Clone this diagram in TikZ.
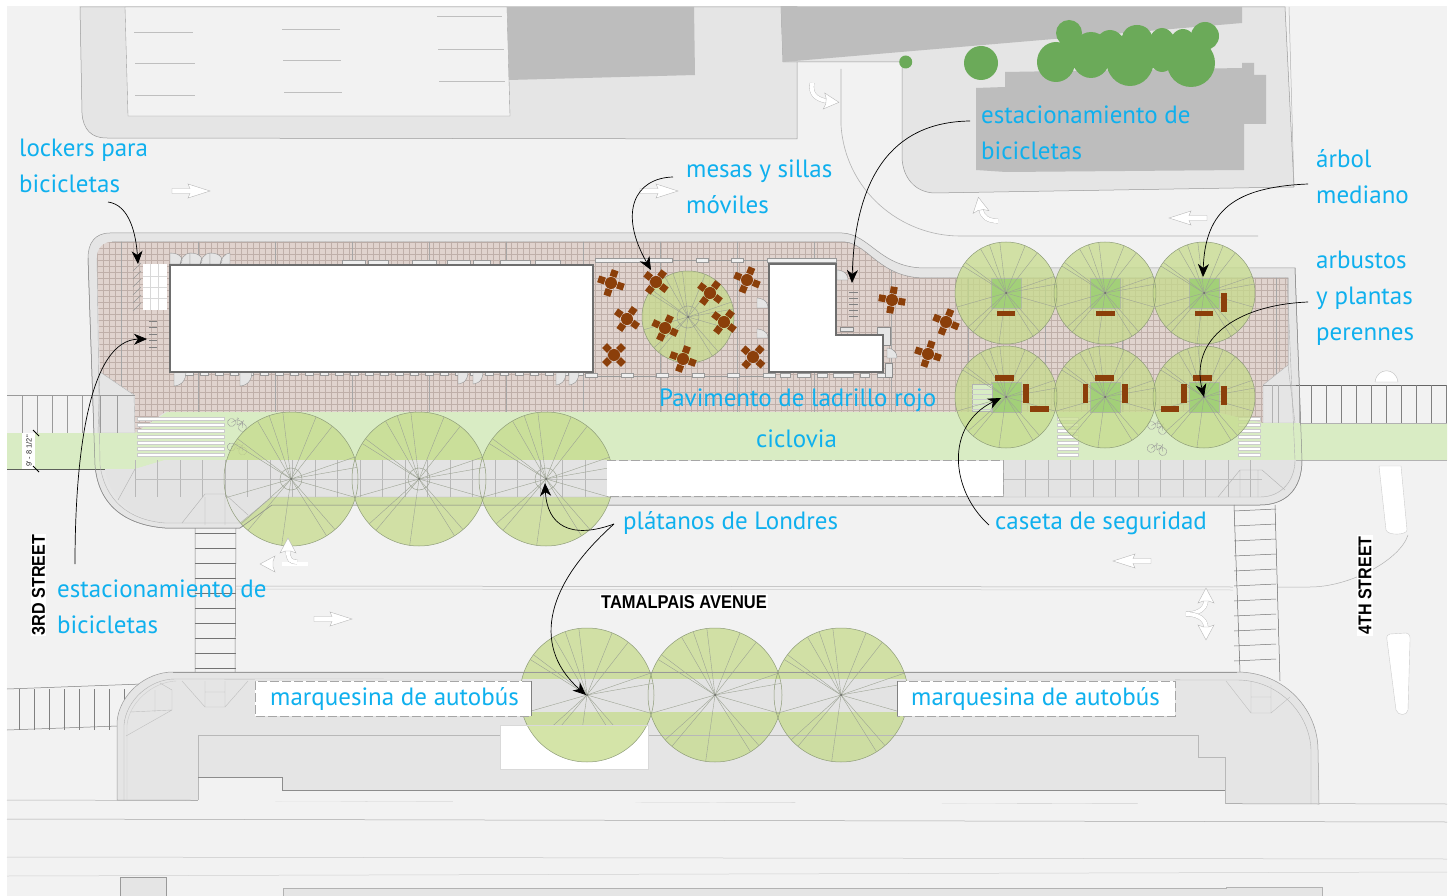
\documentclass[tikz,border=0pt]{standalone}
\usepackage{fontspec}
\setmainfont{PT Sans}
\newfontfamily\planfont{Liberation Sans}
\usetikzlibrary{arrows.meta,calc}
\definecolor{fieldc}{HTML}{F2F2F2}
\definecolor{walkc}{HTML}{E5E5E5}
\definecolor{darkg}{HTML}{BDBDBD}
\definecolor{linec}{HTML}{9A9A9A}
\definecolor{brickc}{HTML}{E0D3CE}
\definecolor{brickl}{HTML}{BFAFA9}
\definecolor{bandc}{HTML}{D9ECC4}
\definecolor{treec}{HTML}{C6DB8C}
\definecolor{treeedge}{HTML}{8E9C78}
\definecolor{spokec}{HTML}{9DA394}
\definecolor{padc}{HTML}{A2D078}
\definecolor{benchc}{HTML}{8B3F0A}
\definecolor{topgreen}{HTML}{6BAA59}
\definecolor{labelc}{HTML}{0FB0EE}
\definecolor{wallc}{HTML}{6E6E6E}
\tikzset{
  plan/.style={draw=linec,line width=.5pt},
  thinplan/.style={draw=linec,line width=.35pt},
  lbl/.style={text=labelc,font=\fontsize{25}{25}\selectfont,anchor=base west,inner sep=0pt},
  streetlbl/.style={text=black,font=\planfont\bfseries\fontsize{18.5}{18.5}\selectfont,fill=white,inner sep=1pt},
  callout/.style={draw=black,line width=.7pt,-{Stealth[length=13pt,width=11pt,inset=4pt]}},
  dashedge/.style={draw=black!35,line width=.8pt,dash pattern=on 9pt off 3pt},
  markarrow/.style={fill=white,draw=black!30,line width=.35pt},
  markpath/.style={draw=black!30,double=white,double distance=4pt,line width=.35pt},
}
\newcommand{\mytreefill}[3]{\fill[treec,fill opacity=.75] (#1,#2) circle (#3);}
\newcommand{\mytreelines}[3]{%
  \draw[treeedge,line width=.5pt] (#1,#2) circle (#3);
  \foreach \ang in {19,10,-16,-49,-58,-98,-130,-138,-164,148,143,120,109,97,68,52}
    \draw[spokec,line width=.4pt] (#1,#2) -- ++(-\ang:#3);
  \fill[black!60] (#1,#2) circle (1);}
\newcommand{\myring}[2]{\draw[spokec,line width=.5pt] (#1,#2) circle (11);}
\newcommand{\mytable}[3]{\begin{scope}[shift={(#1,#2)},rotate=#3]
  \foreach \rr in {0,90,180,270}{\fill[benchc,rotate=\rr] (6.5,-3.5) rectangle (13.4,3.5);}
  \fill[benchc] (0,0) circle (6);
  \end{scope}}
\newcommand{\mybench}[4]{\fill[benchc] (#1,#2) rectangle (#3,#4);}
\newcommand{\mypad}[2]{\fill[padc,draw=treeedge!70,line width=.25pt] (#1-15,#2-14.5) rectangle (#1+15,#2+15);}
\newcommand{\myboxb}[3]{\fill[walkc!60!white,draw=black!40,line width=.35pt] (#1,#3) rectangle (#2,#3+4);}
\newcommand{\mydoor}[4]{\fill[walkc,draw=black!45,line width=.35pt] (#1,#2) -- (#3,#2) .. controls (#3,#4) and (#1,#4) .. (#1,#4) -- cycle;}
\newcommand{\myarrow}[3]{\begin{scope}[shift={(#1,#2)},rotate=#3]
  \path[markarrow] (0,-2.5)--(18,-2.5)--(16,-7)--(38,0)--(16,7)--(18,2.5)--(0,2.5)--cycle;
  \end{scope}}
\newcommand{\myhead}[3]{\begin{scope}[shift={(#1,#2)},rotate=#3]
  \path[markarrow] (0,-8)--(15,0)--(0,8)--(2,2.8)--(2,-2.8)--cycle;
  \end{scope}}
\newcommand{\mybike}[3]{\begin{scope}[shift={(#1,#2)},rotate=#3]
  \draw[black!40,line width=.4pt] (-6,0) circle (4) (6,0) circle (4) (-6,0)--(-2,-5)--(4,-5)--(6,0) (-2,-5)--(0,0)--(4,-5) (-3,-6.5)--(-1,-6.5) (4,-5)--(4,-7);
  \end{scope}}
\begin{document}
\begin{tikzpicture}[x=1pt,y=-1pt]
\useasboundingbox (0,0) rectangle (1452,896);
\fill[white] (0,0) rectangle (1452,896);
\fill[fieldc] (7,6) rectangle (1447,896);

% top left lot
\path[fill=walkc,plan] (80,7) -- (82,113) .. controls (83,130) and (92,138) .. (106,138) -- (797,139) -- (797,7) -- cycle;
\path[fill=fieldc,thinplan] (125,7) -- (128,116) -- (510,116) -- (507,7) -- cycle;
\fill[darkg] (507,7) -- (694,7) -- (695,75) -- (509,80) -- cycle;
\foreach \pa/\pb/\pc in {134/193/32,135/195/63,135/195/95,282/340/29,283/341/60,284/342/92,437/502/16,438/504/49,439/505/81}
  \draw[black!25,line width=.6pt] (\pa,\pc) -- (\pb,\pc);
% top right lot
\path[fill=walkc,plan] (902,62) -- (902,158) .. controls (903,178) and (915,192) .. (934,193) -- (1294,187) -- (1285,7) -- (781,7) -- (783,62) -- cycle;
\fill[darkg] (781,7) -- (1242,7) -- (1242,23) -- (783,62) -- cycle;
\fill[darkg] (976,88) -- (1005,87) -- (1005,72) -- (1242,68) -- (1242,63) -- (1254,63) -- (1254,75) -- (1266,75) -- (1266,124) -- (1244,124) -- (1244,170) -- (1006,172) -- (976,170) -- cycle;
\draw[black!30,line width=.5pt] (1289,7) -- (1294,187);
% curved road line
\draw[black!30,line width=.6pt] (841,69) -- (841,125) .. controls (845,190) and (900,236) .. (960,236) -- (1258,236);
% top trees
\fill[topgreen] (905.7,62) ellipse (6.5 and 6.5);
\fill[topgreen] (981,63) ellipse (17 and 17);
\fill[topgreen] (1056,62) ellipse (19 and 20);
\fill[topgreen] (1069,33) ellipse (13 and 13);
\fill[topgreen] (1091,55) ellipse (20 and 23);
\fill[topgreen] (1110,47) ellipse (15 and 17);
\fill[topgreen] (1130,60) ellipse (24 and 26);
\fill[topgreen] (1137,38) ellipse (15 and 13);
\fill[topgreen] (1162,50) ellipse (15 and 22);
\fill[topgreen] (1183,50) ellipse (15 and 21);
\fill[topgreen] (1191,63) ellipse (24 and 24);
\fill[topgreen] (1205,36) ellipse (14 and 14);
\fill[topgreen] (1060,40) rectangle (1205,68);

% plaza curb
\path[fill=walkc,plan] (110,233) -- (842,233) .. controls (870,234) and (880,268) .. (925,268) -- (1295,268) -- (1302,460) .. controls (1302,490) and (1285,505) .. (1260,505) -- (272,505) -- (240,528) -- (165,528) .. controls (125,525) and (98,505) .. (95,465) -- (88,258) .. controls (88,243) and (95,233) .. (110,233) -- cycle;

% brick
\begin{scope}
\clip (112,242) -- (845,242) .. controls (868,244) and (880,278) .. (925,278) -- (1288,278) -- (1288,365) -- (1263,385) -- (1263,423) -- (1215,412) -- (165,412) -- (135,433) -- (135,395) -- (100,372) -- (97,258) .. controls (97,248) and (103,242) .. (112,242) -- cycle;
\fill[brickc] (80,230) rectangle (1300,440);
\foreach \gx in {91,97,...,1300} \draw[brickl,line width=.3pt] (\gx,230) -- (\gx,440);
\foreach \gy in {236,242,...,440} \draw[brickl,line width=.3pt] (80,\gy) -- (1300,\gy);
\foreach \gx in {121,198,...,1300} \draw[black!35,line width=.3pt] (\gx,230) -- (\gx,440);
\end{scope}
\draw[black!40,line width=.5pt] (112,242) -- (845,242) .. controls (868,244) and (880,278) .. (925,278) -- (1288,278) -- (1288,365);

% corner wedges and side crossings
\fill[walkc,draw=black!30,line width=.4pt] (100,372) -- (134,395) -- (135,433) -- (98,433) -- cycle;
\fill[walkc,draw=black!30,line width=.4pt] (1288,365) -- (1263,385) -- (1263,423) -- (1295,423) -- cycle;
\draw[linec,line width=.5pt] (7,395) -- (135,395);
\foreach \gx in {22,37,52,67,82,100,117} \draw[linec,line width=.4pt] (\gx,395) -- (\gx,433);
\draw[black!60,line width=.7pt] (1296,385) -- (1447,385);
\foreach \gx in {1311,1326,...,1446} \draw[black!50,line width=.5pt] (\gx,385) -- (\gx,423);
\draw[linec,line width=.5pt] (1263,385) -- (1296,385);
\foreach \gx in {1272,1278,1299} \draw[black!30,line width=.4pt] (\gx,385) -- (\gx,423);
\path[fill=white,draw=black!25,line width=.4pt] (1375,382) .. controls (1377,367) and (1396,367) .. (1398,382) -- cycle;
\draw[black!70,line width=.7pt] (7,433) -- (135,433);
\draw[black!70,line width=.7pt] (7,469) -- (130,469);
\draw[black!70,line width=.7pt] (1300,423) -- (1447,423);

% bike lane
\fill[bandc] (7,433) -- (135,433) -- (167,412) -- (1215,412) -- (1263,423) -- (1447,423) -- (1447,460) -- (165,460) -- (135,469) -- (7,469) -- cycle;
\draw[black!30,line width=.4pt] (1300,423) -- (1447,423);
\draw[black!30,line width=.4pt] (1263,460) -- (1447,460);
% stripes
\foreach \gy in {417,423,...,455} {
  \fill[white,draw=black!20,line width=.3pt] (137,\gy) rectangle (224,\gy+2.8);
  \fill[white,draw=black!20,line width=.3pt] (1057,\gy) rectangle (1078,\gy+2.8);
  \fill[white,draw=black!20,line width=.3pt] (1238,\gy) rectangle (1260,\gy+2.8);
}
\mybike{237}{425}{-25}
\mybike{237}{449}{-20}
\mybike{1157}{428}{-25}
\mybike{1157}{450}{-15}

% road lines and lower crossings
\draw[black!30,line width=.5pt] (236,586) -- (1233,587);
\draw[black!20,line width=.5pt] (236,589) -- (1233,590);
\draw[black!30,line width=.5pt] (1278,587) -- (1310,587) .. controls (1350,587) and (1400,560) .. (1408,535);
\foreach \gy in {533,548,...,668} \draw[black!55,line width=.5pt] (195,\gy) -- (236,\gy);
\draw[black!50,line width=.5pt] (195,528) -- (195,672) (236,528) -- (235,672);
\foreach \gy in {510,525,...,670} \draw[black!55,line width=.5pt] (1234,\gy+1) -- (1276,\gy-1);
\draw[black!60,line width=.5pt] (1234,505) -- (1240,672) (1275,505) -- (1280,681);
\foreach \gx in {19,34,49,64,79,94,109,124} \draw[black!50,line width=.5pt] (\gx,689) -- (\gx,730);
\draw[black!50,line width=.5pt] (7,689) -- (142,684);
\draw[black!50,line width=.5pt] (7,730) -- (118,726);
\path[fill=white,draw=black!20,line width=.4pt] (1379,466) -- (1401,466) -- (1407,530) .. controls (1407,535) and (1388,536) .. (1386,530) -- cycle;
\path[fill=white,draw=black!20,line width=.4pt] (1390,634) -- (1406,633) .. controls (1410,634) and (1410,636) .. (1410,640) -- (1408,710) .. controls (1407,716) and (1398,716) .. (1396,710) -- (1387,640) .. controls (1386,636) and (1388,634) .. (1390,634) -- cycle;

% lower long lines
\draw[black!30,line width=.5pt] (7,800) -- (1447,804);
\draw[black!35,line width=.5pt] (7,819) -- (1447,822);
\draw[black!22,line width=.5pt] (7,857) -- (1447,859);
\draw[black!18,line width=.5pt] (7,876) -- (1447,872);
\path[fill=walkc,draw=black!40,line width=.4pt] (120,877) rectangle (166,896);
\path[fill=walkc,draw=black!30,line width=.4pt] (283,888) -- (1226,888) -- (1226,887) -- (1322,887) -- (1322,896) -- (283,896) -- cycle;

% bottom island
\path[fill=walkc,plan] (117,800) -- (117,722) .. controls (119,695) and (145,672) .. (173,672) -- (1237,672) .. controls (1285,672) and (1318,710) .. (1318,750) -- (1319,804) -- cycle;
\draw[black!30,line width=.4pt] (124,800) -- (124,725) .. controls (126,700) and (150,679) .. (175,679) -- (1237,680) .. controls (1280,680) and (1310,715) .. (1311,750) -- (1311,804);
\draw[black!20,line width=.4pt] (127,800) -- (127,725) .. controls (129,703) and (152,682) .. (176,681);
\fill[fieldc] (198,777) -- (282,777) -- (282,790) -- (1225,790) -- (1225,804) -- (198,801) -- cycle;

% tree canopies
\mytreefill{291}{479}{67}
\mytreefill{419}{479}{67}
\mytreefill{546}{479}{67}
\mytreefill{587}{695}{67}
\mytreefill{715}{695}{67}
\mytreefill{841}{695}{67}
\mytreefill{688}{317}{46}
\foreach \tx in {1006,1105,1204}{\mytreefill{\tx}{293}{51}\mytreefill{\tx}{397}{51}}

% paving on top of the front trees
\fill[walkc!99!black] (135,469) -- (165,460) -- (1263,460) -- (1296,460) .. controls (1296,480) and (1285,497) .. (1260,497) -- (272,497) -- (240,523) -- (165,523) .. controls (135,520) and (110,500) .. (105,469) -- cycle;
\fill[walkc!99!black] (255,679) rectangle (1175,712);

% paving pattern
\foreach \gx in {135,157.5,...,610} \draw[black!28,line width=.35pt] (\gx,460) -- (\gx,497);
\foreach \gx in {1003,1025.5,...,1262} \draw[black!28,line width=.35pt] (\gx,460) -- (\gx,497);
\draw[black!25,line width=.35pt] (135,479) -- (610,479) (1003,479) -- (1262,479);
\draw[black!30,line width=.4pt] (135,469) -- (118,500) (205,497) -- (205,525) (225,497) -- (225,525) (182,523) -- (205,494) -- (225,494) -- (248,515);
\draw[black!30,line width=.4pt] (1218,497) -- (1240,470) -- (1262,470) -- (1285,490) (1240,470) -- (1240,497) (1258,470) -- (1258,497);
% curb lines again
\draw[black!45,line width=.5pt] (1295,268) -- (1302,460) .. controls (1302,490) and (1285,505) .. (1260,505) -- (272,505) -- (240,528) -- (165,528) .. controls (125,525) and (98,505) .. (95,465) -- (88,258);
\draw[black!30,line width=.4pt] (1287,278) -- (1295,460) .. controls (1295,480) and (1282,497) .. (1260,497) -- (272,497) -- (240,523) -- (165,523) .. controls (128,520) and (105,500) .. (100,465) -- (97,258);

% island detail over trees
\draw[black!40,line width=.5pt] (173,672) -- (1237,672);
\draw[black!28,line width=.5pt] (198,800) -- (198,735) -- (1198,735) -- (1198,757) -- (1225,757) -- (1225,804);
\draw[black!45,line width=.5pt] (198,777) -- (282,777) -- (282,790) -- (1225,790);
\draw[black!25,line width=.4pt] (182,681) -- (205,707) -- (225,707) -- (248,681) (205,681) -- (205,707) (225,681) -- (225,707) (205,692) -- (225,692);
\draw[black!25,line width=.4pt] (1226,681) -- (1251,713) -- (1271,713) -- (1290,697) (1251,681) -- (1251,713) (1271,685) -- (1271,713) (1251,697) -- (1271,697);
\draw[black!25,line width=.4pt] (126,736) -- (172,710) -- (172,690) -- (160,683) (130,712) -- (172,710) (155,690) -- (155,712);

% plaza trees: pads
\foreach \tx in {1006,1105,1204}{\mypad{\tx}{293}\mypad{\tx}{397}}
\path[fill=bandc,draw=black!30,line width=.3pt] (972,384) rectangle (992,411);
\foreach \gy in {389,394,...,409} \draw[black!20,line width=.3pt] (972,\gy) -- (992,\gy);

% spokes
\foreach \tx in {291,419,546}{\mytreelines{\tx}{479}{67}\myring{\tx}{479}}
\foreach \tx in {587,715,841}{\mytreelines{\tx}{695}{67}}
\mytreelines{688}{317}{46}\myring{688}{317}
\foreach \tx in {1006,1105,1204}{\mytreelines{\tx}{293}{51}\mytreelines{\tx}{397}{51}}

% white rect in island with tree over it
\begin{scope}
\clip (500,725) rectangle (648,769);
\fill[white] (500,725) rectangle (648,769);
\fill[treec,fill opacity=.75] (587,695) circle (67);
\draw[treeedge,line width=.5pt] (587,695) circle (67);
\end{scope}
\draw[black!15,line width=.6pt] (500,725) rectangle (648,769);

% white strip in front of plaza
\fill[white] (607,461) rectangle (1003,496);
\draw[dashedge] (607,460.5) -- (1003,460.5) -- (1003,496) -- (607,496);

% benches
\mybench{997}{311}{1015}{316}
\mybench{1096}{311}{1115}{316}
\mybench{1195}{311}{1213}{316}
\mybench{1221}{293}{1227}{312}
\mybench{995}{375}{1014}{381}
\mybench{1023}{384}{1029}{403}
\mybench{1030}{406}{1049}{412}
\mybench{1095}{375}{1114}{381}
\mybench{1083}{384}{1088}{403}
\mybench{1122}{384}{1128}{403}
\mybench{1193}{375}{1212}{381}
\mybench{1181}{384}{1187}{403}
\mybench{1221}{386}{1227}{405}
\mybench{1161}{406}{1179}{412}

% lockers & racks
\fill[white] (143,264) rectangle (167,310);
\foreach \gx in {150,158} \draw[black!15,line width=.4pt] (\gx,264) -- (\gx,310);
\foreach \gy in {276,287,298} \draw[black!15,line width=.4pt] (143,\gy) -- (167,\gy);
\foreach \gy in {268,276,...,308} \draw[black!40,line width=.4pt] (133,\gy+3) -- (141,\gy-5);
\foreach \gy in {321,327.5,...,348} \draw[black!50,line width=.8pt] (149,\gy) -- (157,\gy);
\foreach \gy in {292,298.2,...,318} \draw[black!50,line width=.8pt] (849,\gy) -- (858,\gy);

% building trim
\draw[black!40,line width=.4pt] (595,260) -- (768,260);
\draw[black!40,line width=.4pt] (595,376) -- (768,376);
\foreach \pa/\pb in {595/672,696/708,731/743,767/836} {\myboxb{\pa}{\pb}{258.5}}
\foreach \pa/\pb in {585/597,621/633,656/668,692/704,727/739,763/775,780/790,797/810,817/827,833/853,860/869,877/887} {\myboxb{\pa}{\pb}{373}}
\foreach \pa/\pb in {342/365,368/388,412/436,447/470,473/490,500/530,535/560} {\myboxb{\pa}{\pb}{260}}
\foreach \gx in {185,200,...,582} {\myboxb{\gx}{\gx+8}{371}}
% door arcs
\foreach \pa/\pb in {170/190,190/210,210/230} {
  \path[fill=walkc,draw=black!45,line width=.35pt] (\pa,264) -- (\pa,253) .. controls (\pa+11,253) and (\pa+15,260) .. (\pa+10,264) .. controls (\pa+10,260) and (\pb-5,253) .. (\pb,253) -- (\pb,264) -- cycle;
}
\mydoor{174}{372}{186}{386}
\mydoor{240}{372}{252}{386}
\mydoor{458}{372}{468}{384}
\mydoor{473}{372}{483}{384}
\mydoor{556}{372}{566}{385}
\mydoor{569}{372}{579}{385}
\mydoor{757}{308}{768}{298}
\mydoor{757}{338}{768}{329}
\mydoor{837}{280}{848}{270}
\mydoor{887}{358}{897}{348}
\path[fill=walkc,draw=black!45,line width=.35pt] (840,327) rectangle (853,331);
\path[fill=walkc,draw=black!45,line width=.35pt] (877,327) rectangle (890,345);
\path[fill=walkc,draw=black!45,line width=.35pt] (885,363) rectangle (892,377);

% buildings
\path[fill=white,draw=wallc,line width=2pt] (170,265) rectangle (593,372);
\path[fill=white,draw=wallc,line width=2pt] (769,264) -- (836,264) -- (836,335) -- (883,335) -- (883,372) -- (769,372) -- cycle;

% tables
\mytable{611}{283}{-18}
\mytable{656}{282}{-38}
\mytable{710}{293}{-37}
\mytable{627}{319}{-35}
\mytable{665}{328}{-25}
\mytable{724}{322}{-37}
\mytable{614}{355}{-45}
\mytable{683}{359}{-20}
\mytable{753}{357}{-42}
\mytable{747}{280}{-22}
\mytable{892}{300}{-10}
\mytable{946}{322}{-22}
\mytable{928}{354}{-18}

% road markings
\myarrow{172}{191}{0}
\myarrow{640}{191}{0}
\myarrow{1207}{218}{180}
\myarrow{314}{619}{0}
\myarrow{1151}{561}{180}
\draw[markpath] (812,83) .. controls (810,95) and (817,99) .. (826,101);
\myhead{824}{101}{-5}
\draw[markpath] (998,221) .. controls (988,221) and (982,217) .. (981,209);
\myhead{981}{212}{100}
\draw[markpath] (308,564) -- (282,564);
\myhead{275}{564}{180}
\draw[markpath] (297,562) .. controls (291,562) and (288,560) .. (288,551);
\myhead{288}{553}{90}
\draw[markpath] (1186,614) .. controls (1196,614) and (1206,610) .. (1206,600);
\myhead{1206}{603}{90}
\draw[markpath] (1186,614) .. controls (1196,614) and (1206,618) .. (1206,628);
\myhead{1206}{625}{-90}

% dimension
\fill[white] (22,433) rectangle (35,469);
\node[name=dimtxt,rotate=90,font=\planfont\fontsize{7.5}{7.5}\selectfont,text=black!85,inner sep=0pt] at (29,451) {9' - 8 1/2"};
\coordinate (dima) at (36,433);
\coordinate (dimb) at (36,469);
\draw[black,line width=.8pt] ($(dima)+(-3,-3)$) -- ($(dima)+(3,3)$);
\draw[black,line width=.8pt] ($(dimb)+(-3,-3)$) -- ($(dimb)+(3,3)$);

% marquesinas
\fill[white] (255,681) rectangle (531,716);
\draw[dashedge] (531,681) -- (255,681) -- (255,716) -- (531,716);
\draw[black!50,line width=.5pt] (531,681) -- (531,716);
\fill[white] (897,681) rectangle (1175,716);
\draw[dashedge] (897,681) -- (1175,681) -- (1175,716) -- (897,716);
\draw[black!50,line width=.5pt] (897,681) -- (897,716);

% street labels
\node[streetlbl,rotate=90,name=st3] at (38.5,585) {\scalebox{.87}[1]{3RD STREET}};
\node[streetlbl,rotate=90,name=st4] at (1365,585.5) {\scalebox{.87}[1]{4TH STREET}};
\node[streetlbl,name=stt] at (684,602) {\scalebox{.89}[1]{TAMALPAIS AVENUE}};

% labels
\node[lbl,name=l1] at (19,157) {lockers para};
\node[lbl,name=l1b] at (19,193) {bicicletas};
\node[lbl,name=l2] at (686,178) {mesas y sillas};
\node[lbl,name=l2b] at (686,214) {móviles};
\node[lbl,name=l3] at (981,124) {estacionamiento de};
\node[lbl,name=l3b] at (981,160) {bicicletas};
\node[lbl,name=l4] at (1316,168) {árbol};
\node[lbl,name=l4b] at (1316,204) {mediano};
\node[lbl,name=l5] at (1316,269) {arbustos};
\node[lbl,name=l5b] at (1316,305) {y plantas};
\node[lbl,name=l5c] at (1316,341) {perennes};
\node[lbl,name=l6] at (659,406) {Pavimento de ladrillo rojo};
\node[lbl,name=l7] at (756,447) {ciclovia};
\node[lbl,name=l8] at (623,529) {plátanos de Londres};
\node[lbl,name=l9] at (995,529) {caseta de seguridad};
\node[lbl,name=l10] at (57,597) {estacionamiento de};
\node[lbl,name=l10b] at (57,633) {bicicletas};
\node[lbl,name=l11] at (270,705) {marquesina de autobús};
\node[lbl,name=l12] at (911,705) {marquesina de autobús};

% callouts
\coordinate (c1s) at (108,202); \coordinate (c1t) at (138,264);
\coordinate (c2s) at (75,564);  \coordinate (c2t) at (147,339);
\coordinate (c3s) at (673,177); \coordinate (c3t) at (651,270);
\coordinate (c4s) at (970,121); \coordinate (c4t) at (852,283);
\coordinate (c5s) at (1308,184); \coordinate (c5t) at (1203,277);
\coordinate (c6s) at (1308,302); \coordinate (c6t) at (1204,397);
\coordinate (c7s) at (989,525); \coordinate (c7t) at (1001,398);
\coordinate (c8s) at (614,524); \coordinate (c8t) at (545,483);
\coordinate (c9t) at (586,695);
\draw[callout] (c1s) .. controls (130,205) and (136,235) .. (c1t);
\draw[callout] (c2s) .. controls (75,450) and (90,340) .. (c2t);
\draw[callout] (c3s) .. controls (635,178) and (618,212) .. (c3t);
\draw[callout] (c4s) .. controls (890,122) and (855,180) .. (c4t);
\draw[callout] (c5s) .. controls (1235,187) and (1205,210) .. (c5t);
\draw[callout] (c6s) .. controls (1235,305) and (1190,340) .. (c6t);
\draw[callout] (c7s) .. controls (950,490) and (945,425) .. (c7t);
\draw[callout] (c8s) .. controls (570,540) and (547,525) .. (c8t);
\draw[callout] (c8s) .. controls (540,590) and (535,650) .. (c9t);
\end{tikzpicture}
\end{document}
